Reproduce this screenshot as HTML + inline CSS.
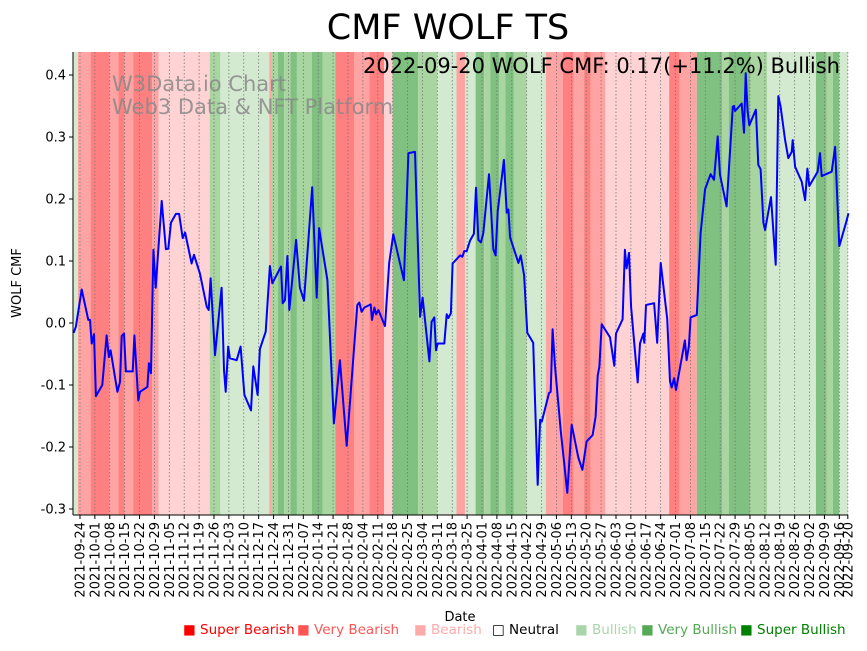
<!DOCTYPE html>
<html><head><meta charset="utf-8"><style>
body{margin:0;background:#fff;}
svg text{font-family:"DejaVu Sans","Liberation Sans",sans-serif;}
</style></head><body>
<svg id="chart" width="867" height="646" xmlns="http://www.w3.org/2000/svg">
<g id="bands"></g>
<g id="grid"></g>
<text x="112" y="91" font-size="21" fill="#888" fill-opacity="0.85">W3Data.io Chart</text>
<text x="112" y="114" font-size="21" fill="#888" fill-opacity="0.85">Web3 Data &amp; NFT Platform</text>
<path id="line" fill="none" stroke="#0000ff" stroke-width="2" stroke-linejoin="round"/>
<g id="axes"></g>
<text x="448" y="39" font-size="35" text-anchor="middle">CMF WOLF TS</text>
<text x="840" y="73" font-size="21" text-anchor="end">2022-09-20 WOLF CMF: 0.17(+11.2%) Bullish</text>
<text transform="translate(21,283) rotate(-90)" font-size="13" text-anchor="middle">WOLF CMF</text>
<text x="460" y="621" font-size="13" text-anchor="middle">Date</text>
<g id="legend" font-size="13.5"></g>
</svg>
<script>
const bandStarts=[0,2,8,17,21,24,28,37,40,64,69,92,93,96,99,102,105,112,117,123,132,139,146,150,162,171,180,184,189,193,196,200,203,207,213,222,230,235,240,243,250,280,285,293,305,308,318,326,349,354,357,360];
const bandLevels=[1,-2,-3,-2,-3,-2,-3,-2,-1,2,1,-2,2,3,2,3,2,3,2,-3,-2,-3,-1,3,2,1,-2,1,3,2,3,2,3,2,1,-2,-3,-2,-3,-2,-1,-3,-2,3,2,3,2,1,3,2,3,1];
const lineDays=[0,1.1,3.8,6.9,7.7,8.5,9.6,10.5,13.5,15.5,16.6,17.4,20.6,21.8,22.6,23.7,24.6,27.8,28.6,30.4,31.2,34.7,35.4,36.4,37.5,38.6,41.4,43.4,44.5,45.8,48.1,49.6,51.3,52.4,55.5,56.6,59.4,62.6,63.5,64.4,66.5,69.6,70.7,71.5,72.7,73.5,76.7,78.5,80.3,83.4,84.5,86.5,87.6,90.3,92.3,93.4,97.5,98.3,99.4,100.5,101.4,104.6,106.4,108.3,112.2,114.3,115.4,119.3,122.4,125.2,128.4,133.4,134.3,135.4,136.7,139.7,140.3,141.4,142.2,143.3,146.4,148.4,150.3,155.3,157.4,160.5,162.9,164.1,167.3,168.3,169.6,170.4,171.2,174.3,175.4,176.2,177.4,178.2,179.8,181.7,182.8,183.7,184.8,186.4,188.2,189.2,190.3,191.5,192.6,195.3,197.3,198.4,199.4,202.3,203.6,204.4,205.2,209.1,210.2,211.8,213.3,216.1,218.2,219.3,220.1,223.5,224.3,225.2,226.3,229.0,232.1,234.2,237.3,239.2,241.2,244.0,245.4,246.4,247.2,248.3,252.2,254.2,255.0,258.1,259.2,260.0,261.1,262.1,265.2,266.3,267.9,268.3,269.1,272.9,274.4,276.0,279.1,280.4,281.2,282.3,283.2,287.4,288.2,289.3,290.1,293.0,294.8,296.9,299.5,301.1,302.8,303.9,307.0,309.9,310.5,311.0,314.1,315.2,316.0,316.9,317.7,320.8,321.9,323.0,324.3,325.1,327.9,330.1,331.3,332.4,334.5,336.0,337.6,338.1,339.2,342.3,343.9,345.0,345.9,349.8,350.9,351.7,356.4,358.0,360.0,363.1,364.3];
const lineValues=[-0.016,-0.006,0.054,0.005,0.005,-0.033,-0.018,-0.118,-0.100,-0.020,-0.055,-0.044,-0.111,-0.095,-0.021,-0.017,-0.078,-0.078,-0.020,-0.125,-0.111,-0.103,-0.065,-0.081,0.118,0.057,0.197,0.119,0.120,0.162,0.176,0.176,0.137,0.146,0.096,0.110,0.080,0.026,0.021,0.072,-0.052,0.057,-0.076,-0.111,-0.038,-0.057,-0.060,-0.038,-0.116,-0.141,-0.070,-0.116,-0.042,-0.014,0.092,0.064,0.091,0.032,0.037,0.108,0.021,0.134,0.057,0.036,0.219,0.041,0.153,0.069,-0.162,-0.060,-0.198,0.029,0.033,0.018,0.025,0.030,0.005,0.025,0.014,0.021,-0.005,0.097,0.143,0.069,0.274,0.276,0.010,0.041,-0.062,0.002,0.009,-0.044,-0.033,-0.033,0.014,0.008,0.016,0.096,0.102,0.109,0.107,0.116,0.116,0.133,0.144,0.218,0.134,0.130,0.145,0.240,0.119,0.109,0.180,0.263,0.178,0.183,0.138,0.097,0.109,0.077,-0.016,-0.032,-0.261,-0.156,-0.159,-0.113,-0.111,-0.010,-0.068,-0.173,-0.274,-0.164,-0.217,-0.237,-0.191,-0.181,-0.151,-0.085,-0.070,-0.002,-0.023,-0.069,-0.017,0.006,0.118,0.088,0.113,0.026,-0.096,-0.033,-0.017,-0.032,0.029,0.032,-0.032,0.097,0.007,-0.094,-0.104,-0.089,-0.108,-0.028,-0.060,-0.037,0.009,0.013,0.145,0.216,0.240,0.231,0.301,0.239,0.188,0.349,0.350,0.342,0.354,0.307,0.403,0.342,0.319,0.344,0.255,0.248,0.162,0.150,0.203,0.094,0.366,0.349,0.295,0.266,0.276,0.295,0.252,0.228,0.198,0.249,0.221,0.244,0.274,0.237,0.244,0.284,0.124,0.161,0.177];
const yTicks=[-0.3,-0.2,-0.1,0.0,0.1,0.2,0.3,0.4];
const xTickDays=[3,10,17,24,31,38,45,52,59,66,73,80,87,94,101,108,115,122,129,136,143,150,157,164,171,178,185,192,199,206,213,220,227,234,241,248,255,262,269,276,283,290,297,304,311,318,325,332,339,346,353,360,364];
const xTickLabels=["2021-09-24","2021-10-01","2021-10-08","2021-10-15","2021-10-22","2021-10-29","2021-11-05","2021-11-12","2021-11-19","2021-11-26","2021-12-03","2021-12-10","2021-12-17","2021-12-24","2021-12-31","2022-01-07","2022-01-14","2022-01-21","2022-01-28","2022-02-04","2022-02-11","2022-02-18","2022-02-25","2022-03-04","2022-03-11","2022-03-18","2022-03-25","2022-04-01","2022-04-08","2022-04-15","2022-04-22","2022-04-29","2022-05-06","2022-05-13","2022-05-20","2022-05-27","2022-06-03","2022-06-10","2022-06-17","2022-06-24","2022-07-01","2022-07-08","2022-07-15","2022-07-22","2022-07-29","2022-08-05","2022-08-12","2022-08-19","2022-08-26","2022-09-02","2022-09-09","2022-09-16","2022-09-20"];
const legendLabels=["Super Bearish","Very Bearish","Bearish","Neutral","Bullish","Very Bullish","Super Bullish"];
const legendColors=["#ff0000","#ff5555","#ffaaaa","#000000","#aad5aa","#55aa55","#008000"];
const levelColor={"-3":"#ff8080","-2":"#ffa3a3","-1":"#ffd3d3","1":"#d4ead0","2":"#a8d5a0","3":"#80c080"};
const NS="http://www.w3.org/2000/svg";
const L=73,R=848,T=52,B=515,END=365;
const X=d=>73.6+d*2.127;
const Y=v=>323-v*620;
function mk(tag,attrs,parent){const e=document.createElementNS(NS,tag);for(const k in attrs)e.setAttribute(k,attrs[k]);parent.appendChild(e);return e;}
const bands=document.getElementById('bands');
bandStarts.forEach((s,i)=>{const e=i+1<bandStarts.length?bandStarts[i+1]:END;
const x0=Math.max(L,X(s)),x1=Math.min(R,X(e));
const r=mk('rect',{x:x0,y:T,width:x1-x0,height:B-T,fill:levelColor[bandLevels[i]]},bands);

});
const grid=document.getElementById('grid'),axes=document.getElementById('axes');
xTickDays.forEach((d,i)=>{const x=X(d);
const g=mk('line',{x1:x,x2:x,y1:T,y2:B,stroke:'#777','stroke-width':0.8,'stroke-dasharray':'1.5,2'},grid);


const t=mk('line',{x1:x,x2:x,y1:B,y2:B+4,stroke:'#000','stroke-width':1},axes);


const tx=mk('text',{transform:`translate(${x+4.5},${B+7}) rotate(-90)`,'font-size':13,'text-anchor':'end'},axes);
tx.textContent=xTickLabels[i];

});
yTicks.forEach(v=>{const y=Y(v);
const t=mk('line',{x1:L-4,x2:L,y1:y,y2:y,stroke:'#000'},axes);


const tx=mk('text',{x:L-7,y:y+4.5,'font-size':13,'text-anchor':'end'},axes);
tx.textContent=v.toFixed(1);

});
const sp1=mk('line',{x1:L,x2:L,y1:T,y2:B,stroke:'#000'},axes);


const sp2=mk('line',{x1:L,x2:R,y1:B,y2:B,stroke:'#000'},axes);


document.getElementById('line').setAttribute('d',lineDays.map((d,i)=>(i?'L':'M')+X(d).toFixed(1)+','+Y(lineValues[i]).toFixed(1)).join(''));
const leg=document.getElementById('legend');
const legX=[183,297,414,492,575,641,740];
legendLabels.forEach((lab,i)=>{
const g=mk('g',{},leg);


const t=mk('text',{x:legX[i],y:634,fill:legendColors[i]},g);
t.textContent=(i==3?'\u25A1':'\u25A0')+' '+lab;});
</script>
</body></html>
